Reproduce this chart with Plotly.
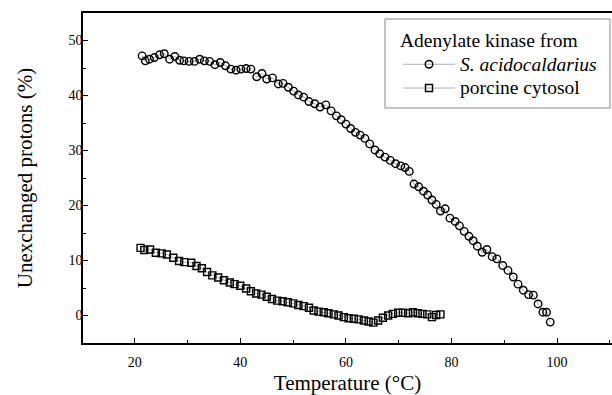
import plotly.graph_objects as go

# S. acidocaldarius adenylate kinase (circles)
sac_temp = [21.4, 22.0, 22.8, 23.7, 24.7, 25.6, 26.6, 27.6, 28.5, 29.3, 30.3, 31.3, 32.3, 33.2,
            34.2, 35.2, 36.2, 37.2, 38.2, 39.2, 40.1, 41.1, 42.0, 43.1, 44.1, 45.0, 46.1, 47.2,
            48.1, 49.1, 50.1, 51.0, 52.0, 53.0, 54.1, 55.1, 56.2, 57.2, 58.2, 59.1, 60.0, 60.9,
            61.8, 62.7, 63.6, 64.5, 65.5, 66.4, 67.4, 68.4, 69.4, 70.4, 71.2, 72.0, 72.9, 73.8,
            74.7, 75.5, 76.3, 77.1, 77.9, 78.8, 79.7, 80.7, 81.5, 82.4, 83.3, 84.1, 84.9, 85.8,
            86.7, 87.7, 88.6, 89.7, 90.7, 91.7, 92.6, 93.6, 94.6, 95.5, 96.4, 97.3, 98.0, 98.7]
sac_unex = [47.2, 46.3, 46.6, 46.9, 47.4, 47.6, 46.6, 47.1, 46.4, 46.3, 46.2, 46.2, 46.6, 46.3,
            46.2, 45.6, 46.0, 45.4, 44.8, 44.6, 44.8, 44.9, 44.8, 43.4, 44.0, 43.0, 43.2, 42.1,
            42.2, 41.5, 40.8, 40.1, 39.7, 38.9, 38.5, 37.9, 38.3, 37.2, 36.3, 35.6, 34.8, 34.0,
            33.3, 32.8, 32.2, 31.2, 30.1, 29.4, 28.8, 28.2, 27.6, 27.2, 26.9, 26.2, 23.9, 23.4,
            22.6, 21.9, 21.0, 20.2, 19.0, 19.4, 17.7, 17.1, 16.3, 15.3, 14.4, 13.6, 12.6, 11.5,
            12.0, 10.7, 10.3, 9.1, 8.2, 7.0, 5.7, 4.6, 3.8, 3.7, 2.1, 0.6, 0.6, -1.2]

# porcine cytosol adenylate kinase (squares)
por_temp = [21.1, 21.8, 22.9, 24.0, 25.1, 26.1, 27.3, 28.4, 29.4, 30.7, 31.7, 32.7, 33.7, 34.7,
            35.8, 36.9, 38.0, 38.9, 40.0, 41.1, 42.0, 43.0, 44.0, 45.0, 46.0, 47.0, 48.0, 49.0,
            50.0, 51.0, 52.0, 53.0, 53.9, 54.8, 55.8, 56.7, 57.7, 58.6, 59.6, 60.5, 61.5, 62.4,
            63.4, 64.3, 65.2, 66.1, 67.0, 68.0, 68.9, 69.9, 70.8, 71.8, 72.7, 73.6, 74.5, 75.4,
            76.3, 77.1, 77.9]
por_unex = [12.3, 11.9, 12.0, 11.4, 11.3, 11.1, 10.5, 9.9, 9.7, 9.6, 9.0, 8.6, 7.9, 7.3,
            6.9, 6.4, 6.0, 5.7, 5.4, 4.9, 4.4, 4.0, 3.8, 3.4, 3.0, 2.7, 2.6, 2.4,
            2.2, 1.9, 1.7, 1.4, 0.9, 0.7, 0.6, 0.4, 0.2, 0.0, -0.3, -0.5, -0.6, -0.7,
            -0.9, -1.1, -1.3, -0.9, -0.4, 0.0, 0.3, 0.5, 0.5, 0.4, 0.6, 0.4, 0.3, 0.2,
            -0.3, 0.1, 0.2]

x_tickvals = [20, 40, 60, 80, 100]
y_tickvals = [0, 10, 20, 30, 40, 50]

SERIF = "Liberation Serif, Times New Roman, serif"
BIG = '<span style="font-size:19.5px">{}</span>'

fig = go.Figure()
fig.add_trace(go.Scatter(
    x=sac_temp, y=sac_unex, mode="lines+markers",
    name=BIG.format("<i>S. acidocaldarius</i>"),
    line=dict(color="#777777", width=0.6),
    marker=dict(symbol="circle-open", size=7.5, color="black", line=dict(width=1.4, color="black")),
))
fig.add_trace(go.Scatter(
    x=por_temp, y=por_unex, mode="lines+markers",
    name=BIG.format("porcine cytosol"),
    line=dict(color="#777777", width=0.6),
    marker=dict(symbol="square-open", size=7, color="black", line=dict(width=1.4, color="black")),
))

# legend frame (drawn separately to get the wider padding of the original)
fig.add_shape(type="rect", xref="paper", yref="paper",
              x0=(385 - 83) / 529, x1=(610 - 83) / 529,
              y0=1 - (108 - 13) / 330, y1=1 - (19 - 13) / 330,
              line=dict(color="#888888", width=1), fillcolor="white", layer="below")

fig.update_layout(
    width=612, height=395,
    margin=dict(l=83, r=0, t=13, b=52),
    plot_bgcolor="white", paper_bgcolor="white",
    font=dict(family=SERIF, color="black", size=14),
    showlegend=True,
    legend=dict(
        x=(398 - 83) / 529, y=1 - (22 - 13) / 330, xanchor="left", yanchor="top",
        bgcolor="rgba(0,0,0,0)", borderwidth=0,
        font=dict(family=SERIF, size=16, color="black"),
        title=dict(text="Adenylate kinase from", font=dict(family=SERIF, size=19.5, color="black")),
        itemwidth=52, tracegroupgap=0,
    ),
    xaxis=dict(
        range=[10.2, 110.4], tickvals=x_tickvals, ticks="inside", ticklen=5, tickwidth=1,
        tickcolor="black", showline=True, linecolor="black", linewidth=1.5, mirror=True,
        showgrid=False, zeroline=False,
        minor=dict(dtick=10, tick0=0, ticks="inside", ticklen=3, tickcolor="black", showgrid=False),
        tickfont=dict(size=14), ticklabelstandoff=5,
        title=dict(text="Temperature (°C)", font=dict(size=21), standoff=8),
    ),
    yaxis=dict(
        range=[-5, 55], tickvals=y_tickvals, ticks="inside", ticklen=5, tickwidth=1,
        tickcolor="black", showline=True, linecolor="black", linewidth=1.5, mirror=False,
        showgrid=False, zeroline=False,
        minor=dict(dtick=5, tick0=0, ticks="inside", ticklen=3, tickcolor="black", showgrid=False),
        tickfont=dict(size=14), ticklabelstandoff=-4,
        title=dict(text="Unexchanged protons (%)", font=dict(size=21), standoff=30),
    ),
)

fig.write_html(
    "out.html",
    config={"displayModeBar": False},
    post_script="document.body.style.margin='0';document.body.style.overflow='hidden';",
)
